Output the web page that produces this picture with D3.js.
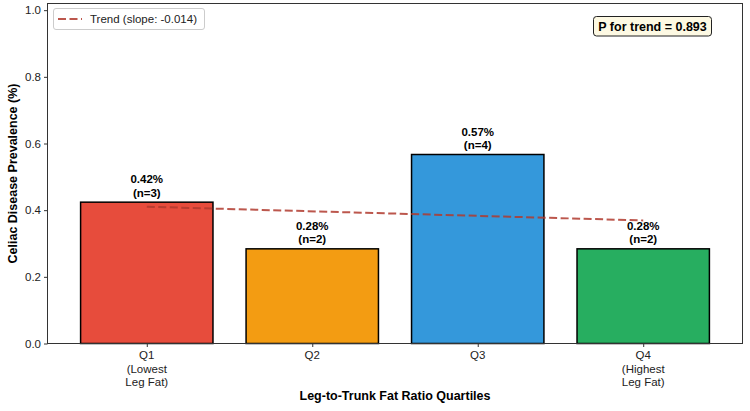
<!DOCTYPE html>
<html><head><meta charset="utf-8">
<script src="https://cdn.jsdelivr.net/npm/d3@7"></script>
<style>body{margin:0;background:#fff}svg{display:block}text{font-family:"Liberation Sans",Arial,sans-serif}</style>
</head><body>
<svg id="c" width="750" height="411"></svg>
<script>
const categories = ["Q1", "Q2", "Q3", "Q4"];
const tickLabels = [["Q1","(Lowest","Leg Fat)"],["Q2"],["Q3"],["Q4","(Highest","Leg Fat)"]];
const prevalence = [0.424, 0.284, 0.567, 0.284];
const counts = [3, 2, 4, 2];
const colors = ["#e74c3c", "#f39c12", "#3498db", "#27ae60"];
const yTicks = [0, 0.2, 0.4, 0.6, 0.8, 1.0];
const pTrend = "0.893";

const svg = d3.select("#c");
const L = 47.5, R = 742.5, T = 3.5, B = 343.5;
const x = d3.scaleLinear().domain([-0.6, 3.6]).range([L, R]);
const y = d3.scaleLinear().domain([0, 1.02]).range([B, T]);
const bw = (x(0.8) - x(0));
const trendColor = "#b03a2e";

// bars
svg.selectAll("rect.bar").data(prevalence).join("rect")
  .attr("x", (d,i) => x(i) - bw/2).attr("width", bw)
  .attr("y", d => y(d)).attr("height", d => y(0) - y(d))
  .attr("fill", (d,i) => colors[i]).attr("stroke", "#000").attr("stroke-width", 1.5);

// bar labels
prevalence.forEach((d,i) => {
  const t = svg.append("text").attr("text-anchor","middle").attr("font-size",11.5).attr("font-weight","bold").attr("fill","#000");
  t.append("tspan").attr("x", x(i)).attr("y", y(d) - 19).text(d3.format(".2f")(d) + "%");
  t.append("tspan").attr("x", x(i)).attr("y", y(d) - 5.5).text("(n=" + counts[i] + ")");
});

// trend line (least squares)
const xs = categories.map((c,i)=>i);
const mx = d3.mean(xs), my = d3.mean(prevalence);
const slope = d3.sum(xs.map((v,i)=>(v-mx)*(prevalence[i]-my))) / d3.sum(xs.map(v=>(v-mx)**2));
const icpt = my - slope*mx;
svg.append("line").attr("x1", x(0)).attr("x2", x(3)).attr("y1", y(icpt)).attr("y2", y(icpt + slope*3))
  .attr("stroke", trendColor).attr("stroke-opacity", 0.85).attr("stroke-width", 2).attr("stroke-dasharray", "8,3.5");

// axes
const gy = svg.append("g").attr("transform", `translate(${L},0)`)
  .call(d3.axisLeft(y).tickValues(yTicks).tickFormat(d3.format(".1f")).tickSize(3.5).tickPadding(3));
gy.select(".domain").remove();
gy.selectAll("text").attr("font-size", 11.5).attr("fill", "#222").attr("font-family", "Liberation Sans, Arial, sans-serif");
gy.selectAll("line").attr("stroke", "#333");

const gx = svg.append("g").attr("transform", `translate(0,${B})`)
  .call(d3.axisBottom(x).tickValues(xs).tickFormat("").tickSize(3.5));
gx.select(".domain").remove();
gx.selectAll("line").attr("stroke", "#333");
tickLabels.forEach((lines,i) => {
  const t = svg.append("text").attr("text-anchor","middle").attr("font-size",11.5).attr("fill","#222");
  lines.forEach((s,j) => t.append("tspan").attr("x", x(i)).attr("y", B + 15.5 + j*13.5).text(s));
});

// frame
svg.append("rect").attr("x", L).attr("y", T).attr("width", R-L).attr("height", B-T)
  .attr("fill","none").attr("stroke","#333").attr("stroke-width",1);

// axis titles
svg.append("text").attr("x", (L+R)/2).attr("y", 400).attr("text-anchor","middle")
  .attr("font-size",12.5).attr("font-weight","bold").text("Leg-to-Trunk Fat Ratio Quartiles");
svg.append("text").attr("transform", `translate(17,${(T+B)/2}) rotate(-90)`).attr("text-anchor","middle")
  .attr("font-size",12.5).attr("font-weight","bold").text("Celiac Disease Prevalence (%)");

// legend
const lg = svg.append("g");
lg.append("rect").attr("x", 53.5).attr("y", 8.5).attr("width", 151).attr("height", 21).attr("rx", 2.5)
  .attr("fill", "#fff").attr("stroke", "#ccc");
lg.append("line").attr("x1", 58).attr("x2", 82).attr("y1", 19).attr("y2", 19)
  .attr("stroke", trendColor).attr("stroke-opacity", 0.85).attr("stroke-width", 2).attr("stroke-dasharray", "8,3.5");
lg.append("text").attr("x", 90).attr("y", 23).attr("font-size", 11.5).attr("fill","#222")
  .text("Trend (slope: " + d3.format(".3f")(slope).replace("−","-") + ")");

// P box
svg.append("rect").attr("x", 593.5).attr("y", 16.5).attr("width", 118).attr("height", 19.5).attr("rx", 3)
  .attr("fill", "#fdf9e3").attr("stroke", "#222").attr("stroke-width", 1);
svg.append("text").attr("x", 652.5).attr("y", 30.5).attr("text-anchor","middle").attr("font-size",12.5)
  .attr("font-weight","bold").text("P for trend = " + pTrend);
</script>
</body></html>
